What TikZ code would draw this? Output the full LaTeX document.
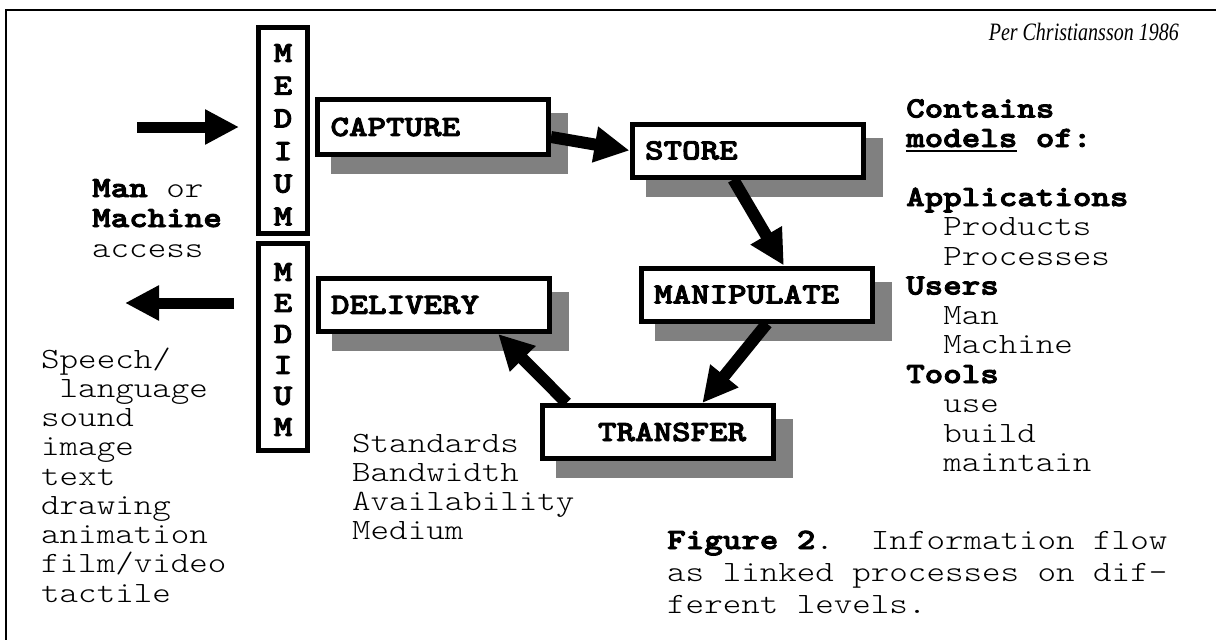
\documentclass[tikz,border=0pt]{standalone}
\usepackage{fontspec}
\usetikzlibrary{arrows.meta,calc}
\newfontfamily\cour[FakeStretch=1.2,BoldFont=lmmonolt10-bold.otf,BoldFeatures={FakeBold=3}]{lmmonolt10-regular.otf}
\newfontfamily\perfont[FakeStretch=0.8]{Liberation Serif}
\definecolor{shadowgray}{HTML}{808080}
\pgfdeclarelayer{shadowlayer}
\pgfdeclarelayer{linklayer}
\pgfsetlayers{shadowlayer,linklayer,main}
% underline drawn as a rule under a word of given width
\newcommand\wordrule[2]{\rlap{\rule[-4.5pt]{#1}{2pt}}#2}
\begin{document}
\begin{tikzpicture}[x=1pt,y=-1pt,
  txt/.style={font=\cour\fontsize{29.4}{30}\selectfont, inner sep=0pt, anchor=base west},
  procbox/.style={draw, line width=5pt, fill=white, inner ysep=0pt, inner xsep=13pt,
    text width=205pt, align=left, minimum height=53pt,
    font=\cour\bfseries\fontsize{29.4}{30}\selectfont},
  medbox/.style={draw, line width=5pt, fill=white, minimum width=49pt, inner sep=0pt},
  medletter/.style={font=\cour\bfseries\fontsize{29.4}{30}\selectfont, inner sep=0pt},
  link/.style={line width=12pt, -{Triangle[length=35pt,width=34pt]}},
  access/.style={line width=11pt, -{Triangle[length=34pt,width=33pt]}}]
\useasboundingbox (0,0) rectangle (1216,640);

% frame
\draw[line width=2pt] (6,640) -- (6,10) -- (1216,10);

% credit line
\node[anchor=base east, inner sep=0pt, font=\perfont\itshape\fontsize{25}{28}\selectfont]
  (credit) at (1179,40) {Per Christiansson 1986};

% the two medium columns
\node[medbox, minimum height=206pt] (medin) at (283,130.5) {};
\node[medbox, minimum height=207pt] (medout) at (283,347) {};
\foreach \l [count=\i] in {M,E,D,I,U,M} {
  \node[medletter] (mi\i) at (283,{53+32.7*(\i-1)}) {\l};
  \node[medletter] (mo\i) at (283,{272+31*(\i-1)}) {\l};
}

% process boxes
\node[procbox, minimum height=55pt] (capture) at (433,127) {CAPTURE};
\node[procbox] (store) at (747.5,150.5) {STORE};
\node[procbox] (manip) at (756.5,294.5) {MANIPULATE};
\node[procbox] (delivery) at (433.5,305) {DELIVERY};
\node[procbox] (transfer) at (657.5,432) {\hspace*{43pt}TRANSFER};

\begin{pgfonlayer}{shadowlayer}
  \foreach \n in {capture,store,manip,delivery,transfer}
    \fill[shadowgray] ($(\n.north west)+(16,16)$) rectangle ($(\n.south east)+(17,17)$);
\end{pgfonlayer}

\begin{pgfonlayer}{linklayer}
  \draw[link] ($(capture.east)+(0,10)$) -- (store.west);
  \draw[link] ($(store.south west)!0.44!(store.south east)$) -- ($(manip.north west)!0.616!(manip.north east)$);
  \draw[link] ($(manip.south west)!0.544!(manip.south east)$) -- ($(transfer.north west)!0.69!(transfer.north east)$);
  \draw[link] ($(transfer.north west)!0.115!(transfer.north east)$) -- ($(delivery.south west)!0.774!(delivery.south east)$);
\end{pgfonlayer}

% access arrows
\coordinate (inTail) at (137,127);
\coordinate (inHead) at (239,127);
\coordinate (outTail) at (234,303);
\coordinate (outHead) at (125,303);
\draw[access] (inTail) -- (inHead);
\draw[access] (outTail) -- (outHead);

% access text
\node[txt] (acc1) at (92,197) {\textbf{Man} or};
\node[txt] (acc2) at (92,227) {\textbf{Machine}};
\node[txt] (acc3) at (92,257) {access};

% media list
\node[txt] (md1) at (41,368) {Speech/};
\node[txt] (md2) at (41,397.25) {\phantom{x}language};
\node[txt] (md3) at (41,426.5) {sound};
\node[txt] (md4) at (41,455.75) {image};
\node[txt] (md5) at (41,485) {text};
\node[txt] (md6) at (41,514.25) {drawing};
\node[txt] (md7) at (41,543.5) {animation};
\node[txt] (md8) at (41,572.75) {film/video};
\node[txt] (md9) at (41,602) {tactile};

% transfer properties
\node[txt] (tp1) at (352,452) {Standards};
\node[txt] (tp2) at (352,481) {Bandwidth};
\node[txt] (tp3) at (352,510) {Availability};
\node[txt] (tp4) at (352,539) {Medium};

% models column
\node[txt] (ct1) at (906,117.5) {\textbf{Contains}};
\node[txt] (ct2) at (906,147) {\textbf{\wordrule{111pt}{models} of:}};
\node[txt] (ct3) at (906,206) {\textbf{Applications}};
\node[txt] (ct4) at (906,235.5) {\phantom{xx}Products};
\node[txt] (ct5) at (906,265) {\phantom{xx}Processes};
\node[txt] (ct6) at (906,294.5) {\textbf{Users}};
\node[txt] (ct7) at (906,324) {\phantom{xx}Man};
\node[txt] (ct8) at (906,353.5) {\phantom{xx}Machine};
\node[txt] (ct9) at (906,383) {\textbf{Tools}};
\node[txt] (ct10) at (906,412.5) {\phantom{xx}use};
\node[txt] (ct11) at (906,442) {\phantom{xx}build};
\node[txt] (ct12) at (906,471.5) {\phantom{xx}maintain};

% caption
\node[txt] (cap1) at (667,549) {\textbf{Figure 2}.\ \ Information flow};
\node[txt] (cap2) at (667,581) {as linked processes on dif-};
\node[txt] (cap3) at (667,613) {ferent levels.};
\end{tikzpicture}
\end{document}
